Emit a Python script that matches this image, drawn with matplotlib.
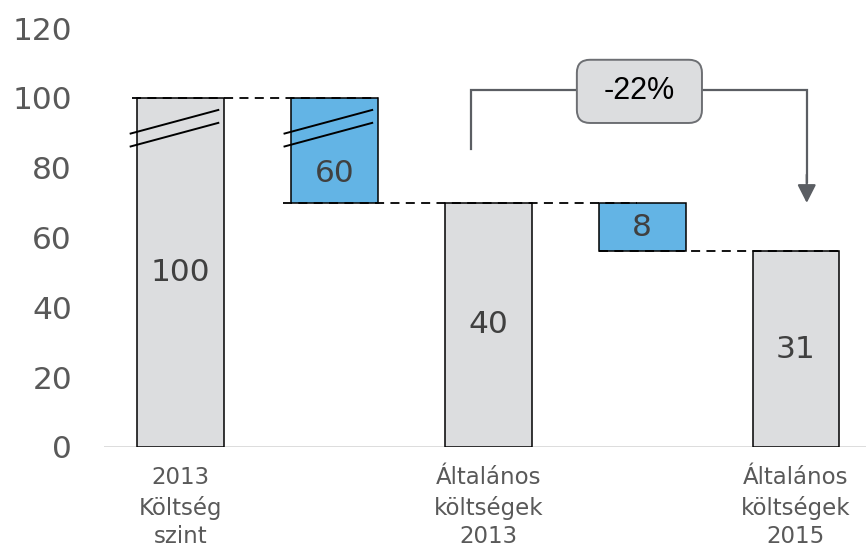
import matplotlib
matplotlib.use("Agg")
import matplotlib.pyplot as plt
from matplotlib.patches import FancyBboxPatch

# Waterfall data (drawn levels on a broken axis) and the printed values
categories = ["2013\nKöltség\nszint", "", "Általános\nköltségek\n2013", "",
              "Általános\nköltségek\n2015"]
kinds = ["total", "drop", "total", "drop", "total"]
bar_bottom = [0, 70, 0, 56, 0]
bar_top = [100, 100, 70, 70, 56]
value_labels = ["100", "60", "40", "8", "31"]
broken = [True, True, False, False, False]
change_label = "-22%"
y_ticks = [0, 20, 40, 60, 80, 100, 120]

TOTAL_COLOR = "#dcdddf"
DROP_COLOR = "#63b4e5"
TEXT_GRAY = "#595959"
VALUE_GRAY = "#404040"
ARROW_GRAY = "#5b5e63"

fig = plt.figure(figsize=(8.66, 5.49), dpi=100)
ax = fig.add_axes([104 / 866, 102 / 549, 762 / 866, 419 / 549])

x = list(range(len(categories)))
width = 0.565
half = width / 2
heights = [t - b for t, b in zip(bar_top, bar_bottom)]
colors = [TOTAL_COLOR if k == "total" else DROP_COLOR for k in kinds]
ax.bar(x, heights, bottom=bar_bottom, width=width, color=colors,
       edgecolor="black", linewidth=1.1, zorder=3)

# baseline
ax.axhline(0, color="#d9d9d9", lw=2, zorder=2)

# dashed connectors between steps
connectors = [
    (bar_top[0], x[0] - half - 0.035, x[1] + half),
    (bar_bottom[1], x[1] - half - 0.05, x[3] - 0.03),
    (bar_bottom[3], x[3] - half, x[4] + half),
]
for level, x0, x1 in connectors:
    ax.plot([x0, x1], [level, level], color="black", lw=1.3,
            dashes=(5, 3.5), zorder=4)

# axis-break marks and value labels
for xi, b, t, lab, brk in zip(x, bar_bottom, bar_top, value_labels, broken):
    if brk:
        for dy in (0, -3.7):
            ax.plot([xi - 0.33, xi + 0.252], [89.7 + dy, 96.6 + dy],
                    color="black", lw=1.4, zorder=5, solid_capstyle="butt")
        ly = b + 0.28 * (t - b) if b > 0 else (b + t) / 2
    else:
        ly = (b + t) / 2
    ax.text(xi, ly, lab, ha="center", va="center", fontsize=22.5,
            color=VALUE_GRAY, zorder=6)

# change bracket with label box
bx0, bx1, by0, by1 = 2.576, 3.389, 92.8, 110.9
ymid = (by0 + by1) / 2 + 0.5
ax.plot([1.887, 1.887, bx0], [85.4, ymid, ymid], color=ARROW_GRAY, lw=1.6,
        zorder=4, solid_joinstyle="miter")
ax.plot([bx1, 4.07, 4.07], [ymid, ymid, 76], color=ARROW_GRAY, lw=1.6,
        zorder=4, solid_joinstyle="miter")
ax.annotate("", xy=(4.07, 69.9), xytext=(4.07, 78),
            arrowprops=dict(arrowstyle="-|>,head_length=0.55,head_width=0.28",
                            mutation_scale=20, color=ARROW_GRAY, lw=1.6,
                            shrinkA=0, shrinkB=0), zorder=4)
box = FancyBboxPatch((bx0, by0), bx1 - bx0, by1 - by0,
                     boxstyle="round,pad=0,rounding_size=0.085",
                     mutation_aspect=153.9 / 3.49,
                     facecolor="#dcdddf", edgecolor="#6d6f73", lw=1.4,
                     zorder=5)
ax.add_patch(box)
ax.text((bx0 + bx1) / 2, (by0 + by1) / 2, change_label, ha="center",
        va="center", fontsize=22, family="Liberation Sans", color="black",
        zorder=6)

ax.set_xlim(-0.497, 4.455)
ax.set_ylim(0, 120)
ax.set_yticks(y_ticks)
ax.set_yticklabels([str(v) for v in y_ticks], fontsize=22.5, color=TEXT_GRAY)
ax.set_xticks(x)
ax.set_xticklabels(categories, fontsize=16.5, color=TEXT_GRAY,
                   linespacing=1.32)
ax.tick_params(axis="y", length=0, pad=23)
ax.tick_params(axis="x", length=0, pad=14)
for s in ax.spines.values():
    s.set_visible(False)

fig.savefig("out.png", dpi=100)
